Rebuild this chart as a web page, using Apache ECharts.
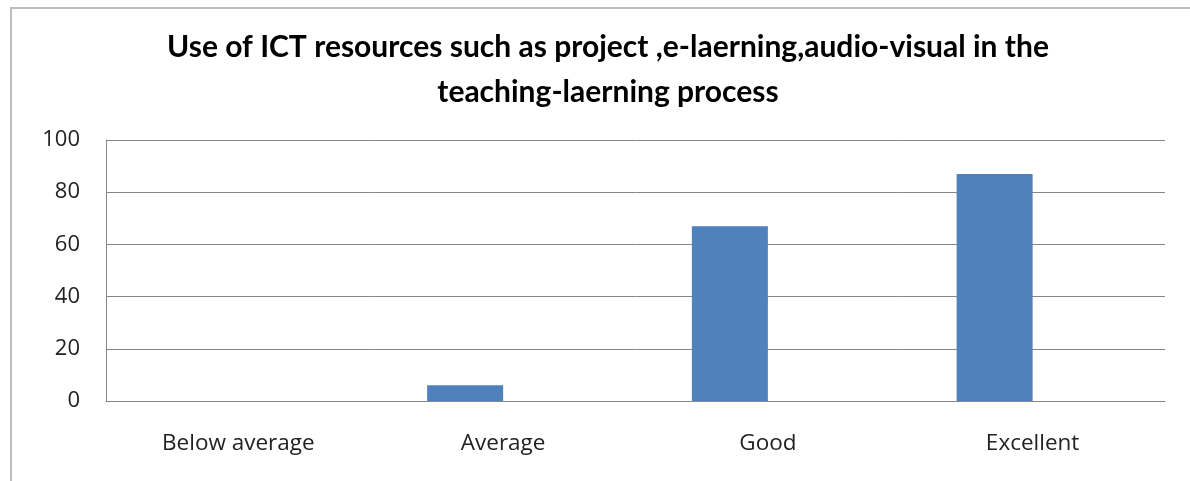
<!DOCTYPE html>
<html>
<head>
<meta charset="utf-8">
<style>
  html, body { margin: 0; padding: 0; background: #ffffff; }
  #chart { width: 1190px; height: 481px; }
</style>
<script src="https://cdn.jsdelivr.net/npm/echarts@6/dist/echarts.min.js"></script>
</head>
<body>
<div id="chart"></div>
<script>
// Rating categories along the x axis
const categories = ['Below average', 'Average', 'Good', 'Excellent'];
// Responses per rating
const ratingValues = [0, 6, 67, 87];
// Second (empty) series slot in each group
const emptySlot = [null, null, null, null];
// Value axis ticks
const yMin = 0;
const yMax = 100;
const yStep = 20;

const titleText = 'Use of ICT resources such as project ,e-laerning,audio-visual in the\nteaching-laerning process';

const chart = echarts.init(document.getElementById('chart'), null, { renderer: 'canvas' });

chart.setOption({
  animation: false,
  backgroundColor: '#ffffff',
  graphic: [{
    type: 'rect',
    shape: { x: 11, y: 8, width: 1200, height: 500 },
    style: { fill: 'none', stroke: '#bdbdbd', lineWidth: 2 },
    silent: true,
    z: -1
  }],
  title: {
    text: titleText,
    left: 603,
    top: 20,
    textAlign: 'center',
    textStyle: {
      fontFamily: 'Lato',
      fontWeight: 'bold',
      fontSize: 30,
      lineHeight: 45,
      color: '#000000'
    }
  },
  grid: { left: 106, right: 25, top: 140, bottom: 80 },
  xAxis: {
    type: 'category',
    data: categories,
    axisLine: { show: true, lineStyle: { color: '#868686', width: 1 } },
    axisTick: { show: false },
    axisLabel: {
      margin: 31,
      fontFamily: 'Open Sans',
      fontSize: 22.5,
      color: '#222222'
    },
    splitLine: { show: false }
  },
  yAxis: {
    type: 'value',
    min: yMin,
    max: yMax,
    interval: yStep,
    axisLine: { show: true, lineStyle: { color: '#868686', width: 1 } },
    axisTick: { show: false },
    axisLabel: {
      margin: 26,
      fontFamily: 'Open Sans',
      fontSize: 22,
      color: '#222222'
    },
    splitLine: { show: true, lineStyle: { color: '#868686', width: 1 } }
  },
  series: [
    {
      name: 'Rating',
      type: 'bar',
      data: ratingValues,
      barWidth: 76,
      barGap: '0%',
      itemStyle: { color: '#4f81bd' }
    },
    {
      name: 'Empty',
      type: 'bar',
      data: emptySlot,
      barWidth: 76,
      barGap: '0%',
      itemStyle: { color: '#c0504d' }
    }
  ]
});
</script>
</body>
</html>
